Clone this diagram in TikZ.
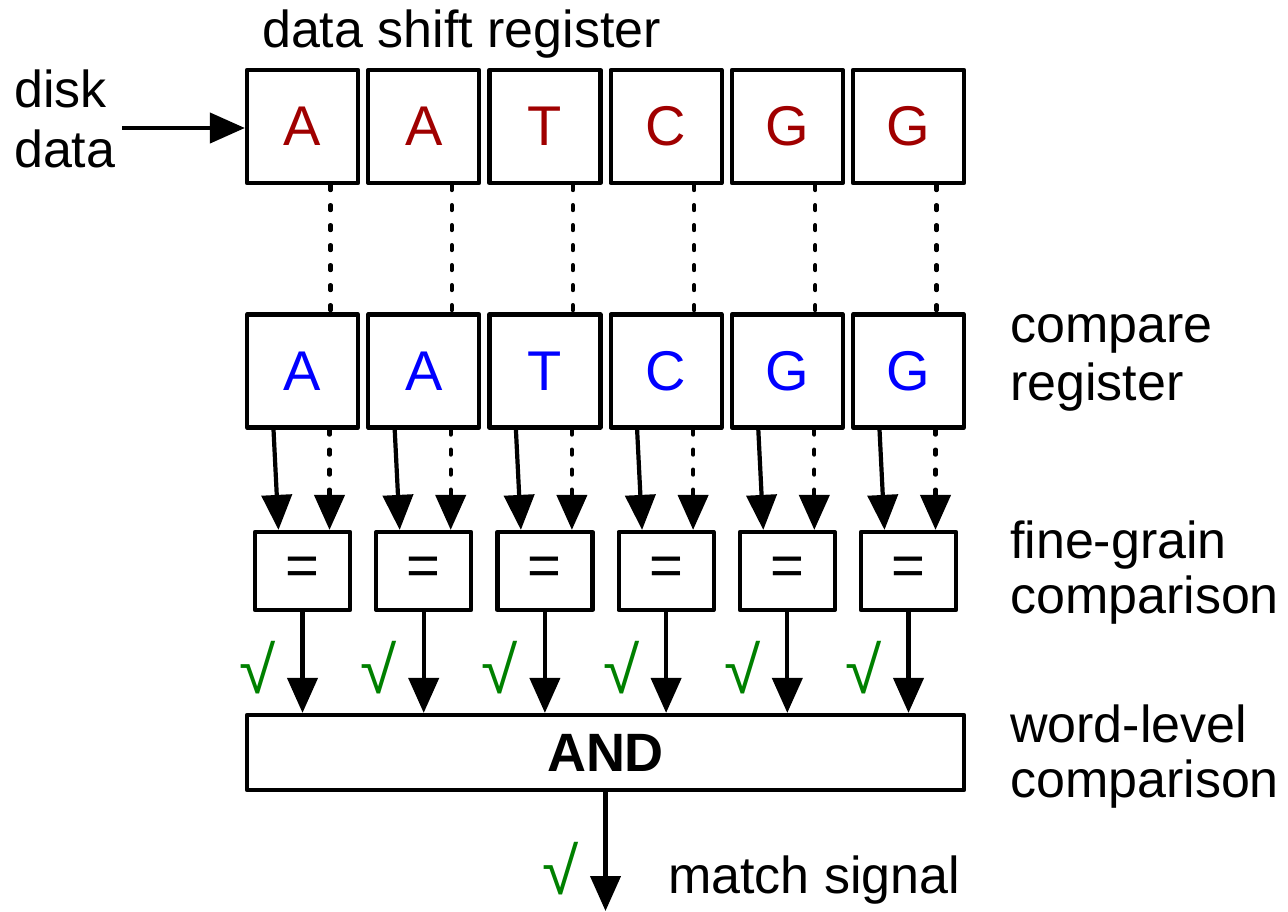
\documentclass[tikz,border=0pt]{standalone}
\usepackage{fontspec}
\setmainfont{Liberation Sans}
\usetikzlibrary{arrows.meta}
\definecolor{basered}{RGB}{160,0,0}
\definecolor{baseblue}{RGB}{0,0,255}
\definecolor{okgreen}{RGB}{0,128,0}

\begin{document}
\begin{tikzpicture}[x=0.5pt,y=-0.5pt,line width=2.1pt,
    cell/.style={draw,line join=round,inner sep=0pt,minimum width=55.5pt,minimum height=56.5pt,font=\fontsize{28}{30}\selectfont},
    eqbox/.style={draw,line join=round,inner sep=0pt,minimum width=47.5pt,minimum height=39pt,font=\fontsize{29}{30}\selectfont},
    lbl/.style={anchor=base west,inner sep=0pt,font=\fontsize{26}{30}\selectfont},
    okmark/.style={text=okgreen,inner sep=0pt,font=\fontsize{33}{34}\selectfont},
    wire/.style={-{Triangle[length=17.5pt,width=15pt]}},
    dotline/.style={line cap=round,dash pattern=on 2.5pt off 7.5pt}]
  \useasboundingbox (0,0) rectangle (1288,911);
  \node[lbl] (title) at (260,47) {data shift register};
  \node[lbl] (disk) at (12,107) {disk};
  \node[lbl] (data) at (12,167) {data};
  \coordinate (feed) at (122,128);
  \foreach \b [count=\i] in {A,A,T,C,G,G} {
    \pgfmathsetmacro{\cx}{302.5+121.2*(\i-1)}
    \node[cell,text=basered] (d\i) at (\cx,126.5) {\b};
    \node[cell,text=baseblue] (c\i) at (\cx,371) {\b};
    \node[eqbox] (e\i) at (\cx,571) {=};
    \node[okmark] (ok\i) at (\cx-45,668) {√};
  }
  \node[draw,line join=round,inner sep=0pt,minimum width=358.5pt,minimum height=37.5pt,font=\fontsize{27}{30}\selectfont\bfseries] (and) at (605.5,752.5) {AND};
  \coordinate (out) at (605.5,911);
  \draw[wire] (feed) -- (feed -| d1.west);
  \foreach \i in {1,...,6} {
    \draw[dotline] ([xshift=14pt]d\i.south) -- ([xshift=14pt]c\i.north);
    \draw[wire] ([xshift=-14.5pt]c\i.south) -- ([xshift=-12pt]e\i.north);
    \draw[wire,dotline] ([xshift=13.5pt]c\i.south) -- ([xshift=13.5pt]e\i.north);
    \draw[wire] (e\i.south) -- (e\i.south |- and.north);
  }
  \draw[wire] (and.south) -- (out);
  \node[okmark] (okout) at (561,869) {√};
  \node[lbl] (match) at (666,893) {match signal};
  % row labels on the right
  \node[lbl] (cmp1) at (1008,342) {compare};
  \node[lbl] (cmp2) at (1008,400) {register};
  \node[lbl] (fine1) at (1008,558) {fine-grain};
  \node[lbl] (fine2) at (1008,613) {comparison};
  \node[lbl] (word1) at (1008,742) {word-level};
  \node[lbl] (word2) at (1008,797) {comparison};
\end{tikzpicture}
\end{document}
